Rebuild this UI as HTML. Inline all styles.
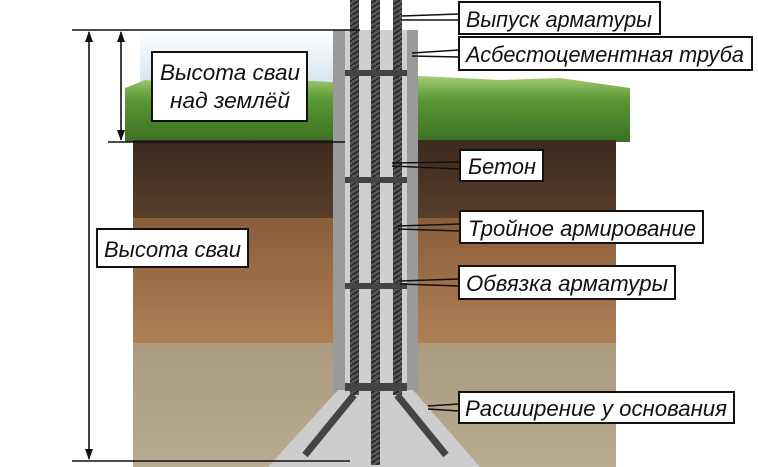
<!DOCTYPE html>
<html><head><meta charset="utf-8"><style>
html,body{margin:0;padding:0;background:#fff;}
svg{display:block}
text{font-family:"Liberation Sans",sans-serif;font-style:italic;font-size:22px;fill:#111}
</style></head><body>
<svg width="758" height="467" viewBox="0 0 758 467" xmlns="http://www.w3.org/2000/svg">
<defs>
<linearGradient id="sky" x1="0" y1="0" x2="0" y2="1"><stop offset="0" stop-color="#fff"/><stop offset="1" stop-color="#c9dcea"/></linearGradient>
<linearGradient id="grass" x1="0" y1="0" x2="0" y2="1"><stop offset="0" stop-color="#a8cc7a"/><stop offset="0.35" stop-color="#5a9a34"/><stop offset="1" stop-color="#3c6e24"/></linearGradient>
<linearGradient id="dark" x1="0" y1="0" x2="0" y2="1"><stop offset="0" stop-color="#3a2a1e"/><stop offset="1" stop-color="#5a3f2a"/></linearGradient>
<linearGradient id="brown" x1="0" y1="0" x2="0" y2="1"><stop offset="0" stop-color="#8a5d3b"/><stop offset="1" stop-color="#b08055"/></linearGradient>
<linearGradient id="sand" x1="0" y1="0" x2="0" y2="1"><stop offset="0" stop-color="#a99a80"/><stop offset="1" stop-color="#b9ab90"/></linearGradient>
<pattern id="rebar" width="8" height="5" patternUnits="userSpaceOnUse"><rect width="8" height="5" fill="#555"/><line x1="0" y1="5" x2="8" y2="0" stroke="#222" stroke-width="1.5"/></pattern>
</defs>
<rect x="140" y="30" width="200" height="70" fill="url(#sky)"/>
<path d="M125 88 L145 80 L200 84 L260 78 L330 82 L420 76 L500 80 L560 78 L630 88 L630 142 L125 142 Z" fill="url(#grass)"/>
<rect x="133" y="140" width="483" height="80" fill="url(#dark)"/>
<rect x="133" y="218" width="483" height="127" fill="url(#brown)"/>
<rect x="133" y="343" width="483" height="124" fill="url(#sand)"/>
<rect x="333" y="30" width="85" height="362" fill="#9a9a9a"/>
<rect x="345" y="30" width="62" height="362" fill="#cfcfcf"/>
<polygon points="338,390 413,390 480,467 268,467" fill="#cdcdcd"/>
<rect x="350" y="0" width="9" height="395" fill="url(#rebar)"/>
<rect x="371" y="0" width="9" height="465" fill="url(#rebar)"/>
<rect x="393" y="0" width="9" height="395" fill="url(#rebar)"/>
<line x1="354" y1="395" x2="305" y2="455" stroke="#444" stroke-width="7"/>
<line x1="397" y1="395" x2="446" y2="455" stroke="#444" stroke-width="7"/>
<g fill="#444"><rect x="345" y="70" width="62" height="6"/><rect x="345" y="177" width="62" height="6"/><rect x="345" y="283" width="62" height="6"/><rect x="345" y="383" width="62" height="8"/></g>
<g stroke="#111" stroke-width="1.6" fill="none">
<line x1="72" y1="30" x2="360" y2="30"/>
<line x1="108" y1="142" x2="345" y2="142"/>
<line x1="72" y1="461" x2="350" y2="461"/>
<line x1="89" y1="32" x2="89" y2="459"/>
<line x1="121" y1="32" x2="121" y2="140"/>
</g>
<g fill="#111"><polygon points="89,31 85,42 93,42"/><polygon points="89,460 85,449 93,449"/><polygon points="121,31 117,42 125,42"/><polygon points="121,141 117,130 125,130"/></g>
<g stroke="#111" stroke-width="1.5">
<line x1="402" y1="16" x2="459" y2="14"/><line x1="402" y1="20" x2="459" y2="20"/>
<line x1="412" y1="53" x2="459" y2="50"/><line x1="412" y1="56" x2="459" y2="57"/>
<line x1="392" y1="163" x2="460" y2="162"/><line x1="392" y1="166" x2="460" y2="169"/>
<line x1="398" y1="226" x2="460" y2="224"/><line x1="398" y1="229" x2="460" y2="231"/>
<line x1="400" y1="281" x2="459" y2="279"/><line x1="400" y1="284" x2="459" y2="286"/>
<line x1="428" y1="406" x2="459" y2="404"/><line x1="428" y1="409" x2="459" y2="411"/>
</g>
<g fill="#fff" stroke="#111" stroke-width="2">
<rect x="459" y="2" width="201" height="32"/>
<rect x="459" y="37" width="293" height="33"/>
<rect x="460" y="150" width="83" height="31"/>
<rect x="460" y="211" width="243" height="32"/>
<rect x="459" y="266" width="216" height="33"/>
<rect x="459" y="392" width="275" height="31"/>
<rect x="152" y="52" width="155" height="69"/>
<rect x="97" y="229" width="151" height="38"/>
</g>
<text x="466" y="27" textLength="186" lengthAdjust="spacingAndGlyphs">Выпуск арматуры</text>
<text x="466" y="62" textLength="278" lengthAdjust="spacingAndGlyphs">Асбестоцементная труба</text>
<text x="468" y="174" textLength="68" lengthAdjust="spacingAndGlyphs">Бетон</text>
<text x="468" y="236" textLength="228" lengthAdjust="spacingAndGlyphs">Тройное армирование</text>
<text x="466" y="291" textLength="202" lengthAdjust="spacingAndGlyphs">Обвязка арматуры</text>
<text x="465" y="416" textLength="262" lengthAdjust="spacingAndGlyphs">Расширение у основания</text>
<text x="160" y="80" textLength="140" lengthAdjust="spacingAndGlyphs">Высота сваи</text>
<text x="170" y="108" textLength="120" lengthAdjust="spacingAndGlyphs">над землёй</text>
<text x="104" y="257" textLength="137" lengthAdjust="spacingAndGlyphs">Высота сваи</text>
</svg>
</body></html>
